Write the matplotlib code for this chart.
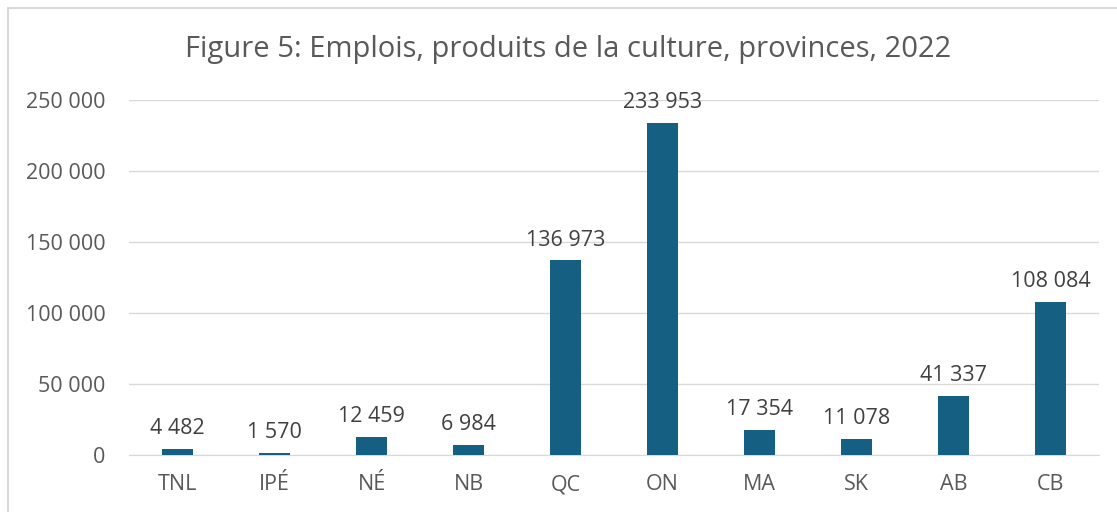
import matplotlib.pyplot as plt
from matplotlib.patches import Rectangle

plt.rcParams['font.family'] = ['Open Sans', 'DejaVu Sans']

provinces = ['TNL', 'IPÉ', 'NÉ', 'NB', 'QC', 'ON', 'MA', 'SK', 'AB', 'CB']
emplois = [4482, 1570, 12459, 6984, 136973, 233953, 17354, 11078, 41337, 108084]
yticks = [0, 50000, 100000, 150000, 200000, 250000]


def fmt(v):
    return f'{v:,}'.replace(',', ' ')


fig = plt.figure(figsize=(11.17, 5.12), dpi=100)
fig.patches.append(Rectangle((8 / 1117, -0.1), 1.2, 1 - 8 / 512 + 0.1,
                             transform=fig.transFigure, fill=False,
                             edgecolor='#d9d9d9', linewidth=1.5))

ax = fig.add_axes([129 / 1117, 57 / 512, 970 / 1117, 355 / 512])
x = range(len(provinces))
ax.bar(x, emplois, width=0.31, color='#156082', zorder=3)
for xi, v in zip(x, emplois):
    ax.text(xi, v + 7000, fmt(v), ha='center', va='bottom', fontsize=15.5,
            color='#404040')

ax.set_xlim(-0.5, len(provinces) - 0.5)
ax.set_ylim(0, 250000)
ax.set_yticks(yticks)
ax.set_yticklabels([fmt(t) for t in yticks])
ax.set_xticks(list(x))
ax.set_xticklabels(provinces)
ax.tick_params(axis='both', length=0, labelsize=15.5, colors='#595959')
ax.tick_params(axis='y', pad=17)
ax.tick_params(axis='x', pad=14)
ax.grid(axis='y', color='#d9d9d9', linewidth=1, zorder=0)
for s in ['top', 'right', 'left']:
    ax.spines[s].set_visible(False)
ax.spines['bottom'].set_color('#d9d9d9')

fig.text(568 / 1117, 1 - 50 / 512, 'Figure 5: Emplois, produits de la culture, provinces, 2022',
         ha='center', va='center', fontsize=21, color='#595959')

fig.savefig('out.png', dpi=100)
